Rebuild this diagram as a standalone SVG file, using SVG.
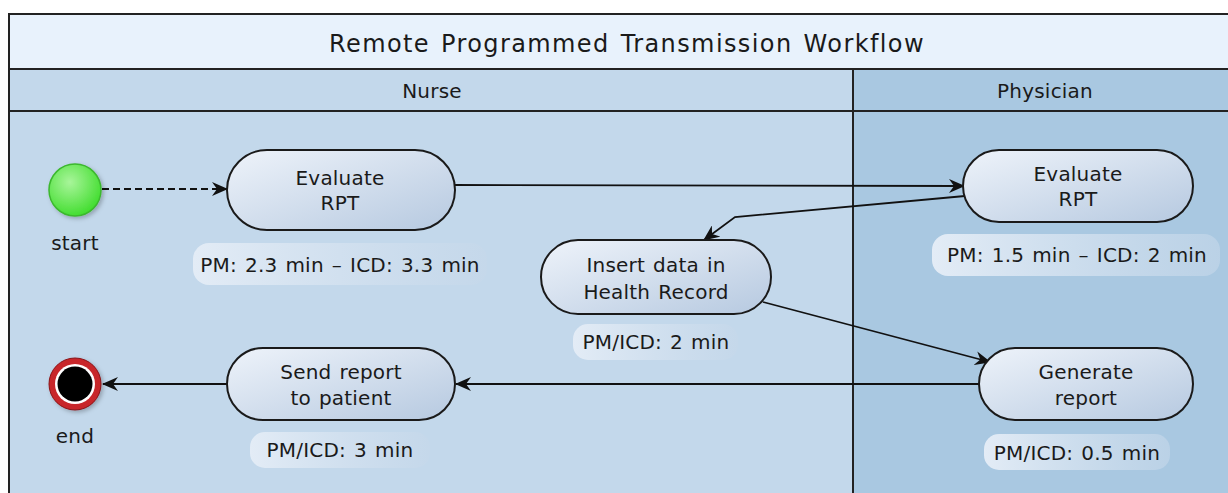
<svg xmlns="http://www.w3.org/2000/svg" width="1228" height="493" viewBox="0 0 1228 493">
<defs>
<linearGradient id="nodeFill" x1="0" y1="0" x2="1" y2="1">
<stop offset="0" stop-color="#eef3fa"/>
<stop offset="1" stop-color="#b6c9e0"/>
</linearGradient>
<linearGradient id="tagFill" x1="0" y1="0" x2="1" y2="0">
<stop offset="0" stop-color="#e3ecf6"/>
<stop offset="1" stop-color="#c6d8ea" stop-opacity="0.6"/>
</linearGradient>
<radialGradient id="startFill" cx="0.4" cy="0.35" r="0.7">
<stop offset="0" stop-color="#a8f59a"/>
<stop offset="1" stop-color="#3ddc2a"/>
</radialGradient>
<marker id="arr" viewBox="0 0 16 14" refX="15" refY="7" markerWidth="16" markerHeight="14" markerUnits="userSpaceOnUse" orient="auto">
<path d="M0,0 L16,7 L0,14 L5,7 Z" fill="#111"/>
</marker>
<filter id="sh" x="-20%" y="-20%" width="140%" height="140%">
<feDropShadow dx="2" dy="2" stdDeviation="2" flood-color="#000" flood-opacity="0.25"/>
</filter>
</defs>
<style>
.t{font-family:"DejaVu Sans",sans-serif;fill:#1a1a1a;text-anchor:middle}
.n{font-size:20px;letter-spacing:0.2px;word-spacing:1.5px}
.node{fill:url(#nodeFill);stroke:#1a1a1a;stroke-width:2}
.tag{fill:url(#tagFill)}
.c{fill:none;stroke:#111;stroke-width:1.8;marker-end:url(#arr)}
</style>
<rect width="1228" height="493" fill="#ffffff"/>
<g id="frame">
<rect x="9" y="14" width="1230" height="490" fill="#c3d8eb" stroke="#222" stroke-width="2"/>
<rect x="853" y="69" width="380" height="430" fill="#a9c8e1"/>
<rect x="9" y="14" width="1230" height="55" fill="#e8f2fc" stroke="#222" stroke-width="2"/>
<line x1="9" y1="111" x2="1228" y2="111" stroke="#222" stroke-width="2"/>
<line x1="853" y1="69" x2="853" y2="493" stroke="#222" stroke-width="2"/>
<text class="t" x="627" y="52" font-size="24" letter-spacing="1.4" word-spacing="2">Remote Programmed Transmission Workflow</text>
<text class="t n" x="432" y="98">Nurse</text>
<text class="t n" x="1045" y="98">Physician</text>
</g>
<g id="connectors">
<line class="c" x1="102" y1="189" x2="227" y2="189" stroke-dasharray="7,4"/>
<line class="c" x1="455" y1="185" x2="964" y2="186"/>
<polyline class="c" points="965,196 735,217 704,240"/>
<line class="c" x1="763" y1="302" x2="990" y2="362"/>
<line class="c" x1="979" y1="384" x2="456" y2="384"/>
<line class="c" x1="227" y1="384" x2="103" y2="384"/>
</g>
<g id="start">
<circle cx="75" cy="190" r="26" fill="url(#startFill)" stroke="#3cb82e" stroke-width="1.5" filter="url(#sh)"/>
<text class="t n" x="75" y="250">start</text>
</g>
<g id="evaluate-nurse">
<rect class="node" x="227" y="150" width="228" height="80" rx="40"/>
<text class="t n" x="340" y="185">Evaluate</text>
<text class="t n" x="340" y="210">RPT</text>
<rect class="tag" x="193" y="243" width="294" height="42" rx="16"/>
<text class="t n" x="340" y="272">PM: 2.3 min – ICD: 3.3 min</text>
</g>
<g id="evaluate-physician">
<rect class="node" x="963" y="150" width="230" height="72" rx="36"/>
<text class="t n" x="1078" y="181">Evaluate</text>
<text class="t n" x="1078" y="206">RPT</text>
<rect class="tag" x="932" y="234" width="288" height="42" rx="16"/>
<text class="t n" x="1077" y="262">PM: 1.5 min – ICD: 2 min</text>
</g>
<g id="insert-data">
<rect class="node" x="541" y="240" width="230" height="74" rx="37"/>
<text class="t n" x="656" y="272">Insert data in</text>
<text class="t n" x="656" y="299">Health Record</text>
<rect class="tag" x="573" y="324" width="165" height="36" rx="15"/>
<text class="t n" x="656" y="349">PM/ICD: 2 min</text>
</g>
<g id="generate-report">
<rect class="node" x="979" y="348" width="214" height="72" rx="36"/>
<text class="t n" x="1086" y="379">Generate</text>
<text class="t n" x="1086" y="405">report</text>
<rect class="tag" x="984" y="434" width="186" height="36" rx="15"/>
<text class="t n" x="1077" y="460">PM/ICD: 0.5 min</text>
</g>
<g id="send-report">
<rect class="node" x="227" y="348" width="228" height="72" rx="36"/>
<text class="t n" x="341" y="379">Send report</text>
<text class="t n" x="341" y="405">to patient</text>
<rect class="tag" x="250" y="432" width="180" height="36" rx="15"/>
<text class="t n" x="340" y="457">PM/ICD: 3 min</text>
</g>
<g id="end">
<circle cx="75" cy="384" r="26" fill="#c8262a" stroke="#8a1518" stroke-width="1" filter="url(#sh)"/>
<circle cx="75" cy="384" r="20" fill="#ffffff"/>
<circle cx="75" cy="384" r="17.5" fill="#000000"/>
<text class="t n" x="75" y="443">end</text>
</g>
</svg>
